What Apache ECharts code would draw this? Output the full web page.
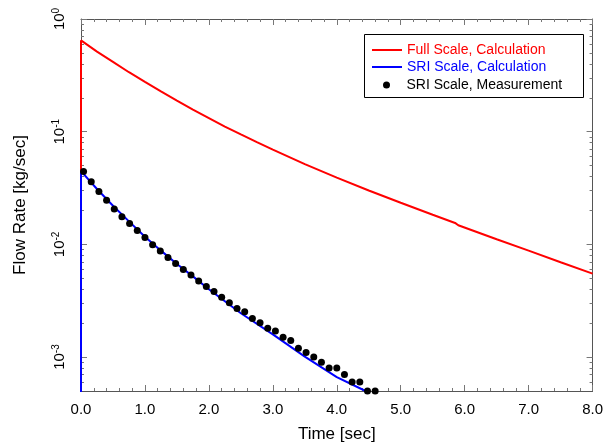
<!DOCTYPE html>
<html>
<head>
<meta charset="utf-8">
<script src="https://cdn.jsdelivr.net/npm/echarts@6/dist/echarts.min.js"></script>
<style>
html,body{margin:0;padding:0;background:#fff;}
#chart{width:606px;height:448px;}
</style>
</head>
<body>
<div id="chart"></div>
<script>
// ---- data ----
var seriesNames = ['Full Scale, Calculation', 'SRI Scale, Calculation', 'SRI Scale, Measurement'];

var fullTime = [0, 0, 0.25, 0.5, 0.75, 1.0, 1.25, 1.5, 1.75, 2.0, 2.25, 2.5, 2.75, 3.0, 3.5, 4.0, 4.5, 5.0, 5.5, 5.85, 5.9, 6.5, 7.0, 7.5, 8.0];
var fullRate = [0.00001, 0.646, 0.513, 0.417, 0.337, 0.277, 0.228, 0.189, 0.157, 0.132, 0.111, 0.0946, 0.0807, 0.0692,
                0.0515, 0.0391, 0.0301, 0.0234, 0.0183, 0.0155, 0.0148, 0.0111, 0.00881, 0.00695, 0.0055];

var sriCalcTime = [0, 0, 0.25, 0.5, 0.75, 1.0, 1.25, 1.5, 1.75, 2.0, 2.5, 3.0, 3.5, 4.0, 4.45, 4.6];
var sriCalcRate = [0.00001, 0.0447, 0.0310, 0.0220, 0.0160, 0.0117, 0.0088, 0.0067, 0.0052, 0.0040, 0.00245, 0.00159, 0.00101, 0.000665, 0.0005, 0.00044];

var sriMeasTime = [0.04, 0.16, 0.28, 0.40, 0.52, 0.64, 0.76, 0.88, 1.00, 1.12, 1.24, 1.36, 1.48, 1.60, 1.72, 1.84, 1.96, 2.08, 2.20, 2.32,
                   2.44, 2.56, 2.68, 2.80, 2.92, 3.04, 3.16, 3.28, 3.40, 3.52, 3.64, 3.76, 3.88, 4.00, 4.12, 4.24, 4.36, 4.48, 4.60];
var sriMeasRate = [0.0444, 0.0359, 0.0295, 0.0246, 0.0206, 0.0176, 0.0153, 0.0133, 0.0115, 0.00991, 0.00873, 0.00766, 0.00678, 0.00600,
                   0.00535, 0.00474, 0.00423, 0.00382, 0.00340, 0.00303, 0.00270, 0.00252, 0.00220, 0.00202, 0.00180, 0.00170,
                   0.00150, 0.00140, 0.00120, 0.00110, 0.00100, 0.00090, 0.00080, 0.00080, 0.00070, 0.00060, 0.00060, 0.00050, 0.00050];

var xMin = 0, xMax = 8, xStep = 1;
var yMin = 0.0005, yMax = 1;
var yMajorTicks = [0.001, 0.01, 0.1, 1];
var yMinorTicks = [0.0006, 0.0007, 0.0008, 0.0009,
                   0.002, 0.003, 0.004, 0.005, 0.006, 0.007, 0.008, 0.009,
                   0.02, 0.03, 0.04, 0.05, 0.06, 0.07, 0.08, 0.09,
                   0.2, 0.3, 0.4, 0.5, 0.6, 0.7, 0.8, 0.9];

function zip(a, b) { return a.map(function (v, i) { return [v, b[i]]; }); }

var FONT = "'Liberation Sans', Arial, sans-serif";
var AXIS_COLOR = '#555';
var TICK_COLOR = '#777';

var chart = echarts.init(document.getElementById('chart'), null, {renderer: 'canvas'});

function xAxisDef(pos, showLabel) {
  return {
    type: 'value', position: pos, min: xMin, max: xMax, interval: xStep,
    axisLine: {show: true, onZero: false, lineStyle: {color: AXIS_COLOR, width: 1}},
    axisTick: {show: true, inside: true, length: 6, lineStyle: {color: TICK_COLOR}},
    minorTick: {show: true, splitNumber: 5, length: 3, lineStyle: {color: TICK_COLOR}},
    splitLine: {show: false},
    axisLabel: {show: showLabel, margin: 11, color: '#000', fontSize: 15, fontFamily: FONT,
      formatter: function (v) { return v.toFixed(1); }},
    name: showLabel ? 'Time [sec]' : '',
    nameLocation: 'middle', nameGap: 35,
    nameTextStyle: {color: '#000', fontSize: 17, fontFamily: FONT}
  };
}

function yAxisDef(pos, ticks, len, showLabel, showLine) {
  return {
    type: 'log', logBase: 10, position: pos, min: yMin, max: yMax,
    axisLine: {show: showLine, onZero: false, lineStyle: {color: AXIS_COLOR, width: 1}},
    axisTick: {show: true, inside: true, length: len, customValues: ticks, lineStyle: {color: TICK_COLOR}},
    minorTick: {show: false},
    splitLine: {show: false},
    axisLabel: {show: showLabel, customValues: ticks, rotate: 90, margin: 12, color: '#000', fontFamily: FONT,
      formatter: function (v) {
        var e = Math.round(Math.log(v) / Math.LN10);
        return '{b|10}{s|' + e + '}';
      },
      rich: {
        b: {fontSize: 15, fontFamily: FONT, color: '#000'},
        s: {fontSize: 10, fontFamily: FONT, color: '#000', verticalAlign: 'top', padding: [0, 0, 8, 0]}
      }
    },
    name: showLabel ? 'Flow Rate [kg/sec]' : '',
    nameLocation: 'middle', nameGap: 52, nameRotate: 90,
    nameTextStyle: {color: '#000', fontSize: 17, fontFamily: FONT}
  };
}

var option = {
  backgroundColor: '#fff',
  animation: false,
  grid: {left: 81, top: 19, right: 11, bottom: 55, containLabel: false},
  xAxis: [xAxisDef('bottom', true), xAxisDef('top', false)],
  yAxis: [
    yAxisDef('left', yMajorTicks, 6, true, true),
    yAxisDef('left', yMinorTicks, 3, false, false),
    yAxisDef('right', yMajorTicks, 6, false, true),
    yAxisDef('right', yMinorTicks, 3, false, false)
  ],
  legend: [
    {data: [seriesNames[0]], left: 372, top: 43, padding: 0, itemWidth: 30, itemHeight: 2, icon: 'rect', selectedMode: false,
     textStyle: {color: '#ff0000', fontSize: 14, fontFamily: FONT}},
    {data: [seriesNames[1]], left: 372, top: 60, padding: 0, itemWidth: 30, itemHeight: 2, icon: 'rect', selectedMode: false,
     textStyle: {color: '#0000ff', fontSize: 14, fontFamily: FONT}},
    {data: [seriesNames[2]], left: 383, top: 78, padding: 0, itemWidth: 30, itemHeight: 7, icon: 'circle', selectedMode: false,
     textStyle: {color: '#000', fontSize: 14, fontFamily: FONT}}
  ],
  graphic: [{
    type: 'rect', left: 364, top: 34, z: 1,
    shape: {width: 219, height: 63},
    style: {fill: '#fff', stroke: '#000', lineWidth: 1}
  }],
  series: [
    {name: seriesNames[0], type: 'line', xAxisIndex: 0, yAxisIndex: 0, data: zip(fullTime, fullRate),
     symbol: 'none', smooth: false, lineStyle: {color: '#ff0000', width: 2}, itemStyle: {color: '#ff0000'}, clip: true, z: 2},
    {name: seriesNames[1], type: 'line', xAxisIndex: 0, yAxisIndex: 0, data: zip(sriCalcTime, sriCalcRate),
     symbol: 'none', smooth: false, lineStyle: {color: '#0000ff', width: 2}, itemStyle: {color: '#0000ff'}, clip: true, z: 3},
    {name: seriesNames[2], type: 'scatter', xAxisIndex: 0, yAxisIndex: 0, data: zip(sriMeasTime, sriMeasRate),
     symbol: 'circle', symbolSize: 7, itemStyle: {color: '#000', opacity: 1}, clip: false, z: 4}
  ]
};
chart.setOption(option);
</script>
</body>
</html>
